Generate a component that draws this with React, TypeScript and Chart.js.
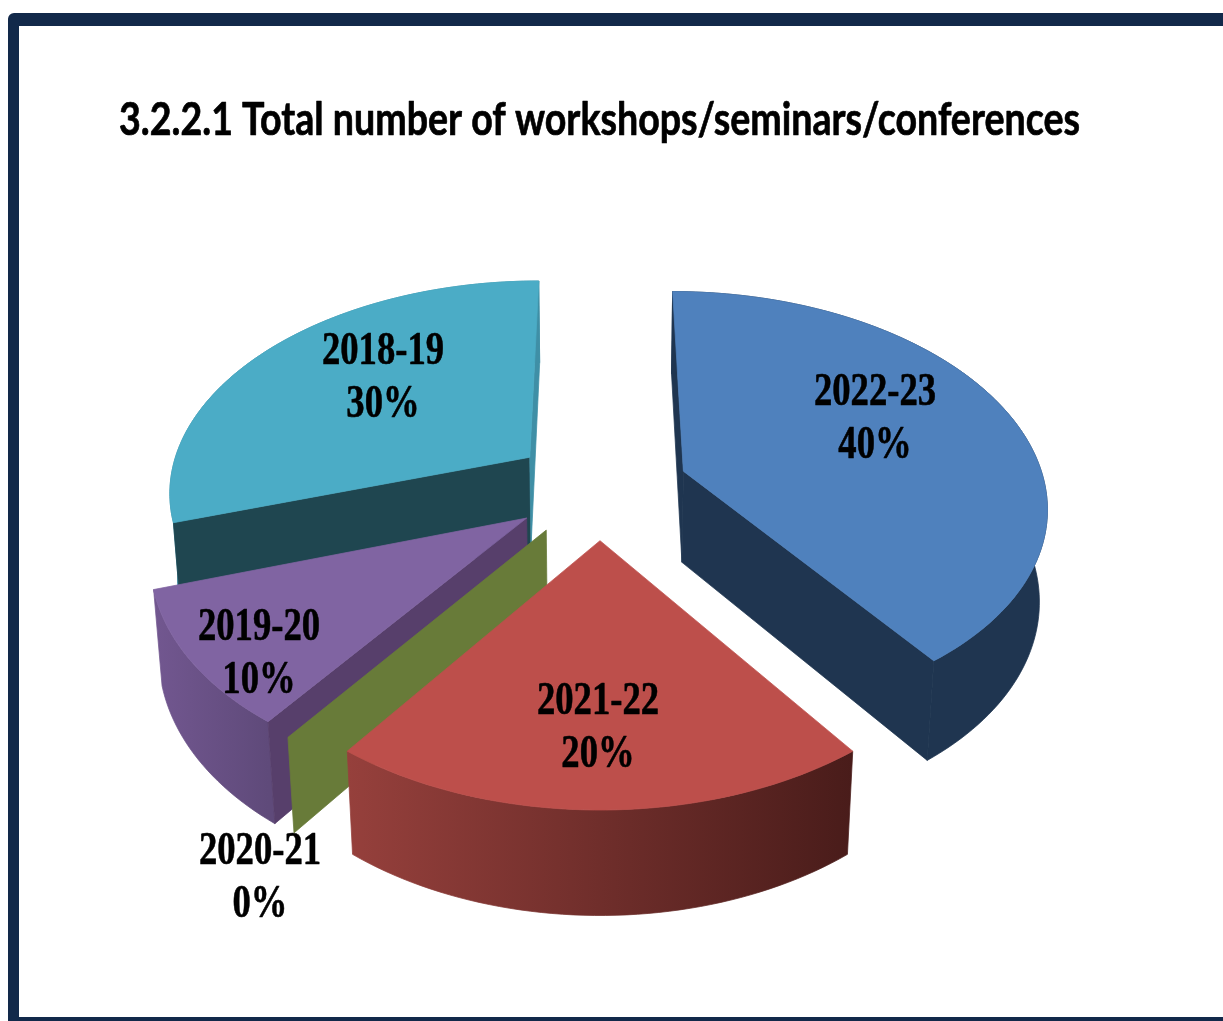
import React, { useEffect, useRef } from "react";
import { Chart, registerables } from "chart.js";

Chart.register(...registerables);

// ---- data (clockwise from 12 o'clock) ----
const categories = ["2022-23", "2021-22", "2020-21", "2019-20", "2018-19"];
const shares = [40, 20, 0, 10, 30];
const titleText = "3.2.2.1 Total number of workshops/seminars/conferences";

// ---- styles, one per category ----
const topColors = ["#4f81bd", "#bd4f4b", "#687b39", "#8064a2", "#4bacc6"];
const startWallColors = ["#1f3550", "#4a1c1a", "#687b39", "#573f6b", "#1f4650"];
const endWallColors = ["#1f3550", "#4a1c1a", "#687b39", "#573f6b", "#3f8fa6"];
const outerLeftColors = ["#1f3550", "#96403c", "#687b39", "#725790", "#3f8fa6"];
const outerRightColors = ["#1f3550", "#491c1a", "#687b39", "#5f4a7a", "#3f8fa6"];
const depthFactors = [1, 1, 0.93, 1, 1];

// ---- label layout (centre of the two-line label) ----
const labelCentres: [number, number][] = [
  [875, 414.5],
  [598, 723.5],
  [260, 873.5],
  [259, 649.5],
  [383, 373.5],
];

// ---- camera of the tilted pie ----
const view = { cx: 600, cy: 487, rx: 362, ry: 211, h: 93.5, p: 0.15, q: 0.018, explode: 0.245 };

function project(X: number, Y: number, Z: number): [number, number] {
  const w = 1 - view.p * Y + view.q * Z;
  return [view.cx + (view.rx * X) / w, view.cy + (view.ry * Y + view.h * Z) / w];
}

function solidPath(ctx: CanvasRenderingContext2D, pts: [number, number][], fill: string | CanvasGradient) {
  ctx.beginPath();
  pts.forEach((p, i) => (i ? ctx.lineTo(p[0], p[1]) : ctx.moveTo(p[0], p[1])));
  ctx.closePath();
  ctx.fillStyle = fill;
  ctx.fill();
  ctx.strokeStyle = fill;
  ctx.lineWidth = 0.75;
  ctx.lineJoin = "round";
  ctx.stroke();
}

const pie3d = {
  id: "pie3d",
  beforeDatasetsDraw(chart: any) {
    const ctx: CanvasRenderingContext2D = chart.ctx;
    const arcs = chart.getDatasetMeta(0).data;
    const order = arcs
      .map((a: any, i: number) => ({ a, i, mid: (a.startAngle + a.endAngle) / 2 }))
      .sort((m: any, n: any) => Math.sin(m.mid) - Math.sin(n.mid));

    ctx.save();
    for (const { a, i, mid } of order) {
      const ox = Math.cos(mid) * view.explode;
      const oy = Math.sin(mid) * view.explode;
      const d = depthFactors[i];
      const rim: number[][] = [];
      const steps = Math.max(1, Math.ceil((a.endAngle - a.startAngle) * 40));
      for (let s = 0; s <= steps; s++) {
        const t = a.startAngle + ((a.endAngle - a.startAngle) * s) / steps;
        rim.push([ox + Math.cos(t), oy + Math.sin(t)]);
      }
      const first = rim[0];
      const last = rim[rim.length - 1];
      const wall = (e: number[], color: string) =>
        solidPath(ctx, [project(ox, oy, 0), project(e[0], e[1], 0), project(e[0], e[1], d), project(ox, oy, d)], color);

      if (steps > 1) {
        const upper = rim.map((e) => project(e[0], e[1], 0));
        const lower = rim.map((e) => project(e[0], e[1], d)).reverse();
        const xs = upper.map((u) => u[0]);
        const grad = ctx.createLinearGradient(Math.min(...xs), 0, Math.max(...xs), 0);
        grad.addColorStop(0, outerLeftColors[i]);
        grad.addColorStop(1, outerRightColors[i]);
        solidPath(ctx, [...upper, ...lower], grad);
        // side walls that face the viewer sit over the rim wall
        if (-Math.cos(a.startAngle) > -0.01) wall(first, startWallColors[i]);
        if (Math.cos(a.endAngle) > -0.01) wall(last, endWallColors[i]);
        solidPath(ctx, [project(ox, oy, 0), ...upper], topColors[i]);
      } else {
        wall(first, startWallColors[i]);
      }
    }
    ctx.restore();
    return false;
  },
  afterDraw(chart: any) {
    const ctx: CanvasRenderingContext2D = chart.ctx;
    ctx.save();
    ctx.fillStyle = "#000";
    ctx.strokeStyle = "#000";
    ctx.lineJoin = "round";
    ctx.textBaseline = "alphabetic";

    // title: a condensed humanist bold
    ctx.font = "bold 45px Lato";
    ctx.textAlign = "left";
    ctx.lineWidth = 0.7;
    const tw = ctx.measureText(titleText).width;
    ctx.save();
    ctx.translate(119, 135);
    ctx.scale(961 / tw, 1);
    ctx.fillText(titleText, 0, 0);
    ctx.strokeText(titleText, 0, 0);
    ctx.restore();

    // slice labels: a condensed bold serif
    ctx.font = 'bold 47px "Liberation Serif"';
    ctx.textAlign = "center";
    ctx.lineWidth = 0.6;
    categories.forEach((c, i) => {
      const [x, y] = labelCentres[i];
      ctx.save();
      ctx.translate(x, y);
      ctx.scale(0.78, 1);
      ctx.fillText(c, 0, -10);
      ctx.strokeText(c, 0, -10);
      ctx.fillText(`${shares[i]}%`, 0, 43);
      ctx.strokeText(`${shares[i]}%`, 0, 43);
      ctx.restore();
    });
    ctx.restore();
  },
};

export default function App() {
  const ref = useRef<HTMLCanvasElement>(null);
  useEffect(() => {
    const chart = new Chart(ref.current!, {
      type: "pie",
      data: { labels: categories, datasets: [{ data: shares, backgroundColor: topColors }] },
      options: {
        responsive: false,
        animation: false,
        plugins: { legend: { display: false }, tooltip: { enabled: false }, title: { display: false, text: titleText } },
      },
      plugins: [pie3d],
    } as any);
    return () => chart.destroy();
  }, []);
  return (
    <div style={{ position: "fixed", inset: 0, overflow: "hidden", background: "#fff" }}>
      <div
        style={{
          position: "absolute",
          left: 8,
          top: 13,
          width: 1400,
          height: 1016,
          boxSizing: "border-box",
          borderStyle: "solid",
          borderColor: "#12294a",
          borderWidth: "13px 12px 12px 11px",
          borderRadius: 6,
        }}
      />
      <canvas ref={ref} width={1223} height={1021} style={{ position: "absolute", left: 0, top: 0 }} />
    </div>
  );
}
